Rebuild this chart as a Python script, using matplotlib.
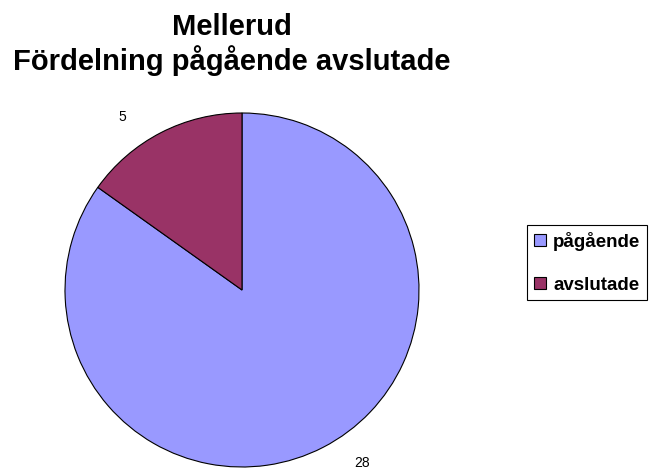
import numpy as np
import matplotlib.pyplot as plt

plt.rcParams['font.family'] = ['Liberation Sans', 'DejaVu Sans']

categories = ['pågående', 'avslutade']
values = [28, 5]
colors = ['#9999FF', '#993366']

fig = plt.figure(figsize=(6.53, 4.70), dpi=100)
fig.patch.set_facecolor('white')

# pie axes: centre ~ (242, 290) px, radius ~177 px
ax = fig.add_axes([65 / 653, 3 / 470, 354 / 653, 354 / 470])
wedges, texts = ax.pie(values, colors=colors, startangle=90, counterclock=False,
                       wedgeprops=dict(edgecolor='black', linewidth=0.8))
# value labels just outside each wedge (nudged like the original)
for w, v in zip(wedges, values):
    ang = np.deg2rad((w.theta1 + w.theta2) / 2 + 7.5)
    ax.text(1.19 * np.cos(ang), 1.19 * np.sin(ang), str(v), ha='center', va='center',
            fontsize=10, clip_on=False)
ax.set_xlim(-1, 1)
ax.set_ylim(-1, 1)
ax.set_aspect('equal')

fig.text(0.355, 0.972, 'Mellerud\nFördelning pågående avslutade', ha='center', va='top',
         fontsize=21, fontweight='bold', linespacing=1.15)

leg = fig.legend(wedges, categories, loc='upper left', bbox_to_anchor=(527 / 653, 1 - 225 / 470),
                 frameon=True, fancybox=False, edgecolor='black', framealpha=1,
                 handlelength=0.65, handleheight=0.65, handletextpad=0.4, labelspacing=1.4,
                 borderpad=0.35, borderaxespad=0, prop=dict(weight='bold', size=13.5))
leg.get_frame().set_linewidth(0.8)

fig.savefig('out.png', dpi=100)
